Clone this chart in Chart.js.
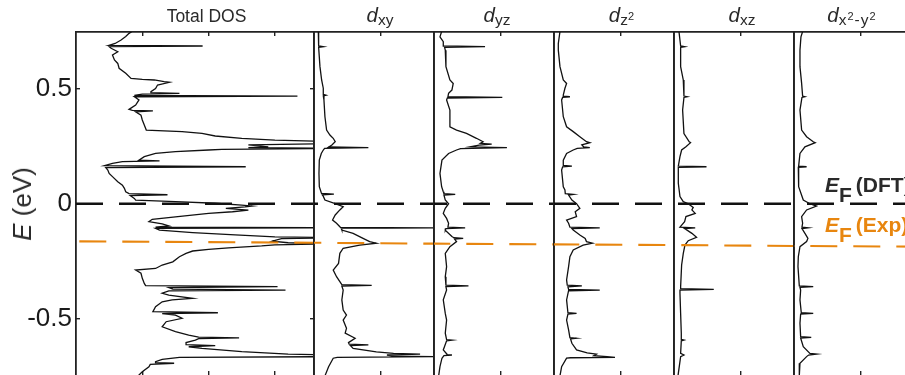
<!DOCTYPE html>
<html>
<head>
<meta charset="utf-8">
<title>DOS</title>
<script src="https://cdn.jsdelivr.net/npm/chart.js@4/dist/chart.umd.min.js"></script>
<style>
  html, body { margin:0; padding:0; background:#fff; overflow:hidden; }
  #wrap { position:relative; width:905px; height:375px; overflow:hidden; font-family:"Liberation Sans", Arial, sans-serif; color:#2a2a2a; }
  #wrap canvas { position:absolute; top:0; }
  .txt { position:absolute; white-space:nowrap; z-index:5; }
  .ttl { top:5.3px; font-size:20.5px; line-height:20.5px; transform:translateX(-50%); }
  .sb { font-size:15.5px; position:relative; top:2.5px; }
  .sp { font-size:11px; position:relative; top:-5px; }
  .wide { letter-spacing:1px; }
  .ef { font-size:21px; line-height:21px; font-weight:bold; }
  .ef .F { position:relative; top:10px; }
  .ef .p { margin-left:4px; }
</style>
</head>
<body>
<div id="wrap">
  <div class="txt" style="left:206.5px; top:7.9px; font-size:17.5px; line-height:17.5px; transform:translateX(-50%);">Total DOS</div>
  <div class="txt ttl" style="left:380px;"><i>d</i><span class="sb">xy</span></div>
  <div class="txt ttl" style="left:497px;"><i>d</i><span class="sb">yz</span></div>
  <div class="txt ttl" style="left:621.5px;"><i>d</i><span class="sb">z<span class="sp">2</span></span></div>
  <div class="txt ttl" style="left:742px;"><i>d</i><span class="sb">xz</span></div>
  <div class="txt ttl" style="left:852px;"><i>d</i><span class="sb wide">x<span class="sp">2</span>-y<span class="sp">2</span></span></div>
  <div class="txt" style="left:22px; top:203.5px; font-size:26px; line-height:26px; transform:translate(-50%,-50%) rotate(-90deg);"><i>E</i> (eV)</div>
  <div class="txt ef" style="left:825px; top:173.9px; color:#2a2a2a;"><i>E</i><span class="F">F</span><span class="p">(DFT)</span></div>
  <div class="txt ef" style="left:825px; top:213.9px; color:#E8860F;"><i>E</i><span class="F">F</span><span class="p">(Exp)</span></div>
</div>
<script>
// ---------------- data ----------------
const yMin = -0.75, yMax = 0.748;
const yTickValues = [-0.5, 0, 0.5];
const yTickLabels = ['-0.5', '0', '0.5'];
const efDFT = 0;
// experimental Fermi level, read at the panel boundaries (slightly tilted in the figure)
const efExp = [-0.164, -0.170, -0.174, -0.177, -0.180, -0.184, -0.187];

const totalE = [0.757,0.742,0.728,0.713,0.698,0.690,0.687,0.684,0.677,0.662,
0.648,0.626,0.611,0.590,0.568,0.546,0.542,0.539,0.532,0.529,
0.517,0.502,0.488,0.484,0.481,0.477,0.472,0.469,0.466,0.452,
0.430,0.411,0.407,0.404,0.400,0.386,0.365,0.343,0.321,0.314,
0.306,0.295,0.285,0.277,0.270,0.263,0.256,0.248,0.244,0.241,
0.237,0.234,0.227,0.219,0.205,0.190,0.187,0.183,0.176,0.166,
0.161,0.157,0.147,0.132,0.118,0.096,0.081,0.067,0.052,0.044,
0.039,0.035,0.023,0.016,0.009,0.002,-0.006,-0.010,-0.014,-0.020,
-0.028,-0.035,-0.042,-0.057,-0.068,-0.078,-0.088,-0.097,-0.102,-0.105,
-0.107,-0.115,-0.126,-0.136,-0.144,-0.148,-0.152,-0.163,-0.170,-0.174,
-0.179,-0.184,-0.192,-0.199,-0.206,-0.216,-0.231,-0.253,-0.267,-0.282,
-0.289,-0.303,-0.325,-0.347,-0.357,-0.361,-0.365,-0.372,-0.376,-0.380,
-0.390,-0.398,-0.412,-0.419,-0.427,-0.449,-0.470,-0.475,-0.479,-0.485,
-0.499,-0.514,-0.536,-0.557,-0.572,-0.581,-0.584,-0.588,-0.594,-0.605,
-0.614,-0.618,-0.623,-0.630,-0.644,-0.655,-0.659,-0.666,-0.669,-0.678,
-0.688,-0.692,-0.695,-0.700,-0.710,-0.732,-0.746,-0.768];
const totalDOS = [0.88,0.80,0.75,0.68,0.59,0.50,1.91,0.50,0.53,0.63,
0.55,0.58,0.63,0.65,0.75,0.83,1.0,1.18,1.33,1.41,
1.23,1.2,1.13,1.13,1.56,1.0,0.88,3.34,0.88,0.95,
0.9,0.8,0.85,1.16,0.9,0.98,1.0,1.03,1.06,1.6,
1.9,2.1,2.5,3.0,4.0,4.0,2.6,2.9,2.6,4.0,
2.2,2.0,1.5,1.2,1.03,0.95,1.26,0.7,0.55,0.43,
2.56,0.45,0.48,0.5,0.55,0.63,0.7,0.73,0.75,0.8,
1.38,0.82,0.88,0.9,1.5,2.1,2.5,2.66,2.55,2.26,
2.6,2.36,2.0,1.5,1.15,1.1,1.3,1.4,1.2,4.0,
1.2,1.26,1.76,2.4,3.0,4.0,3.1,2.96,3.2,4.0,
3.0,2.8,2.3,2.0,1.76,1.66,1.56,1.46,1.3,1.2,
0.9,0.98,1.0,1.03,1.05,3.04,1.4,1.46,3.16,1.4,
1.3,1.4,1.76,1.45,1.3,1.2,1.16,2.14,1.3,1.5,
1.6,1.36,1.3,1.5,1.7,1.85,2.46,1.85,1.8,1.66,
1.66,2.1,1.7,1.9,2.5,3.2,4.0,4.0,1.56,1.3,
1.2,1.2,1.48,1.12,1.1,1.0,0.95,0.85];

const dxyE = [0.75,0.687,0.684,0.681,0.597,0.539,0.503,0.476,0.473,0.470,0.452,0.379,0.321,0.299,0.285,0.270,0.256,0.247,0.244,0.241,0.234,0.219,0.190,0.132,0.074,0.048,0.045,0.042,0.039,0.016,0.0,-0.013,-0.027,-0.049,-0.071,-0.085,-0.100,-0.103,-0.105,-0.107,-0.115,-0.129,-0.151,-0.165,-0.172,-0.180,-0.194,-0.216,-0.260,-0.289,-0.318,-0.352,-0.356,-0.359,-0.376,-0.419,-0.463,-0.485,-0.507,-0.543,-0.564,-0.586,-0.605,-0.612,-0.615,-0.618,-0.630,-0.645,-0.652,-0.655,-0.659,-0.664,-0.666,-0.669,-0.673,-0.710,-0.75];
const dxyDOS = [0.065,0.07,0.14,0.07,0.09,0.115,0.14,0.14,0.18,0.14,0.15,0.165,0.19,0.24,0.29,0.32,0.27,0.22,0.82,0.16,0.14,0.11,0.08,0.075,0.08,0.11,0.115,0.30,0.13,0.165,0.32,0.44,0.39,0.32,0.28,0.34,0.39,0.40,1.9,0.41,0.42,0.59,0.74,0.84,0.94,0.69,0.44,0.39,0.37,0.29,0.34,0.42,0.87,0.42,0.44,0.42,0.44,0.49,0.44,0.49,0.47,0.62,0.52,0.53,0.82,0.55,0.59,0.94,1.2,1.6,1.1,1.2,1.9,0.35,0.29,0.22,0.165];

const dyzE = [0.75,0.727,0.706,0.687,0.684,0.681,0.669,0.597,0.539,0.524,0.495,0.481,0.466,0.463,0.460,0.452,0.408,0.335,0.321,0.306,0.285,0.270,0.263,0.260,0.255,0.248,0.244,0.240,0.234,0.219,0.190,0.132,0.074,0.052,0.044,0.041,0.038,0.016,0.0,-0.020,-0.042,-0.064,-0.085,-0.102,-0.105,-0.108,-0.115,-0.143,-0.148,-0.151,-0.154,-0.165,-0.187,-0.216,-0.274,-0.318,-0.355,-0.358,-0.361,-0.376,-0.419,-0.478,-0.507,-0.564,-0.592,-0.594,-0.597,-0.637,-0.657,-0.659,-0.662,-0.673,-0.710,-0.75];
const dyzDOS = [0.115,0.09,0.14,0.14,0.77,0.16,0.17,0.18,0.24,0.29,0.27,0.22,0.21,1.03,0.2,0.19,0.24,0.24,0.34,0.49,0.64,0.74,0.70,0.87,0.68,0.55,1.10,0.40,0.34,0.22,0.12,0.09,0.115,0.14,0.15,0.32,0.15,0.17,0.22,0.17,0.14,0.19,0.22,0.21,0.47,0.18,0.17,0.27,0.30,0.44,0.31,0.34,0.24,0.17,0.19,0.17,0.18,0.52,0.18,0.19,0.14,0.17,0.19,0.17,0.19,0.27,0.19,0.14,0.2,0.27,0.15,0.12,0.09,0.07];

const dz2E = [0.75,0.698,0.669,0.597,0.539,0.524,0.503,0.473,0.469,0.466,0.463,0.452,0.379,0.335,0.314,0.292,0.270,0.266,0.256,0.247,0.244,0.241,0.234,0.219,0.190,0.167,0.164,0.161,0.147,0.074,0.060,0.044,0.041,0.038,0.016,0.0,-0.020,-0.035,-0.056,-0.071,-0.085,-0.102,-0.105,-0.108,-0.115,-0.136,-0.151,-0.165,-0.172,-0.180,-0.201,-0.231,-0.274,-0.332,-0.355,-0.358,-0.362,-0.373,-0.376,-0.379,-0.419,-0.475,-0.478,-0.481,-0.507,-0.550,-0.583,-0.586,-0.589,-0.608,-0.637,-0.650,-0.655,-0.662,-0.666,-0.669,-0.671,-0.673,-0.710,-0.75];
const dz2DOS = [0.09,0.065,0.065,0.09,0.14,0.19,0.165,0.14,0.14,0.24,0.13,0.115,0.14,0.19,0.29,0.39,0.49,0.54,0.42,0.45,0.54,0.35,0.29,0.19,0.14,0.14,0.27,0.13,0.115,0.14,0.165,0.17,0.29,0.22,0.27,0.34,0.39,0.32,0.34,0.19,0.22,0.24,0.69,0.27,0.29,0.39,0.47,0.49,0.58,0.44,0.29,0.24,0.22,0.19,0.2,0.42,0.21,0.22,0.69,0.22,0.19,0.21,0.34,0.21,0.19,0.22,0.24,0.34,0.25,0.27,0.34,0.5,0.64,0.6,0.8,0.92,0.25,0.19,0.115,0.09];

const dxzE = [0.75,0.687,0.684,0.681,0.597,0.539,0.469,0.466,0.463,0.408,0.306,0.292,0.270,0.266,0.248,0.234,0.205,0.164,0.161,0.158,0.089,0.031,0.009,0.0,-0.016,-0.027,-0.042,-0.056,-0.078,-0.102,-0.105,-0.108,-0.129,-0.146,-0.161,-0.180,-0.216,-0.267,-0.361,-0.370,-0.373,-0.376,-0.390,-0.478,-0.564,-0.591,-0.594,-0.597,-0.652,-0.659,-0.666,-0.75];
const dxzDOS = [0.075,0.10,0.16,0.10,0.10,0.14,0.15,0.2,0.15,0.13,0.15,0.18,0.23,0.25,0.18,0.115,0.09,0.065,0.49,0.065,0.065,0.09,0.14,0.215,0.29,0.27,0.32,0.18,0.16,0.09,0.32,0.16,0.27,0.34,0.215,0.165,0.14,0.115,0.10,0.1,0.60,0.09,0.09,0.10,0.11,0.11,0.15,0.11,0.10,0.15,0.10,0.06];

const dx2y2E = [0.75,0.727,0.669,0.597,0.524,0.469,0.466,0.463,0.408,0.321,0.292,0.270,0.266,0.248,0.219,0.164,0.161,0.158,0.132,0.074,0.016,0.0,-0.010,-0.027,-0.056,-0.085,-0.102,-0.105,-0.108,-0.129,-0.151,-0.165,-0.187,-0.231,-0.274,-0.358,-0.361,-0.364,-0.376,-0.419,-0.475,-0.478,-0.481,-0.521,-0.579,-0.582,-0.585,-0.623,-0.652,-0.655,-0.659,-0.666,-0.695,-0.75];
const dx2y2DOS = [0.13,0.105,0.09,0.09,0.115,0.13,0.165,0.12,0.09,0.115,0.19,0.29,0.32,0.165,0.09,0.07,0.19,0.065,0.065,0.075,0.14,0.24,0.34,0.19,0.115,0.13,0.12,0.21,0.12,0.165,0.21,0.19,0.09,0.065,0.06,0.08,0.29,0.09,0.1,0.09,0.11,0.29,0.1,0.09,0.1,0.26,0.1,0.14,0.24,0.34,0.22,0.19,0.09,0.08];

const totalXTicks = [1, 2, 3];
const orbitalXTicks = [1];

// ---------------- layout / style ----------------
const PX_PER_UNIT = 66.3;
const PLOT_TOP = 32, PLOT_BOTTOM = 375.9, CANVAS_H = 380;
const AX = '#222';
const CURVE = '#111';
const ORANGE = '#E8860F';
const DASH = [27, 16];
const DASH_PERIOD = 43;
const FONT = '"Liberation Sans", Arial, sans-serif';

const panels = [
  {left: 76,  width: 238, E: totalE, D: totalDOS, xt: totalXTicks, main: true},
  {left: 314, width: 120, E: dxyE,   D: dxyDOS,   xt: orbitalXTicks},
  {left: 434, width: 120, E: dyzE,   D: dyzDOS,   xt: orbitalXTicks},
  {left: 554, width: 120, E: dz2E,   D: dz2DOS,   xt: orbitalXTicks},
  {left: 674, width: 120, E: dxzE,   D: dxzDOS,   xt: orbitalXTicks},
  {left: 794, width: 120, E: dx2y2E, D: dx2y2DOS, xt: orbitalXTicks},
];

const wrap = document.getElementById('wrap');
const mod = (a, m) => ((a % m) + m) % m;

panels.forEach((p, i) => {
  const canvasLeft = p.main ? 0 : p.left - 4;
  const cw = p.left + p.width + 4 - canvasLeft;
  const cv = document.createElement('canvas');
  cv.width = cw; cv.height = CANVAS_H;
  cv.style.left = canvasLeft + 'px';
  cv.style.width = cw + 'px'; cv.style.height = CANVAS_H + 'px';
  wrap.appendChild(cv);
  const xmax = p.width / PX_PER_UNIT;

  const xTickGrid = (len) => ({drawOnChartArea: false, drawTicks: true, tickLength: len, color: AX, tickColor: AX, lineWidth: 1.4, tickWidth: 1.4});
  const border = {display: true, color: AX, width: 1.8};

  new Chart(cv, {
    type: 'line',
    data: {
      datasets: [
        {data: [{x: 0, y: efDFT}, {x: xmax, y: efDFT}], borderColor: '#111', borderWidth: 2.4,
         borderDash: DASH, borderDashOffset: mod(p.left - 76, DASH_PERIOD), pointRadius: 0},
        {data: [{x: 0, y: efExp[i]}, {x: xmax, y: efExp[i + 1]}], borderColor: ORANGE, borderWidth: 2.1,
         borderDash: DASH, borderDashOffset: mod(p.left - 79.3, DASH_PERIOD), pointRadius: 0},
        {data: p.E.map((e, k) => ({x: p.D[k], y: e})), borderColor: CURVE, borderWidth: 1.3, pointRadius: 0, tension: 0}
      ]
    },
    options: {
      responsive: false, animation: false, events: [],
      layout: {autoPadding: false, padding: {left: p.main ? 0 : 4, right: 4, top: PLOT_TOP, bottom: CANVAS_H - PLOT_BOTTOM}},
      plugins: {legend: {display: false}, tooltip: {enabled: false}, title: {display: false}},
      scales: {
        x: {type: 'linear', position: 'bottom', min: 0, max: xmax,
            ticks: {display: false}, grid: xTickGrid(-5), border,
            afterBuildTicks: s => { s.ticks = p.xt.map(v => ({value: v})); },
            afterFit: s => { s.height = 0; s.paddingLeft = 0; s.paddingRight = 0; }},
        x2: {type: 'linear', position: 'top', min: 0, max: xmax,
            ticks: {display: false}, grid: xTickGrid(-4), border,
            afterBuildTicks: s => { s.ticks = p.xt.map(v => ({value: v})); },
            afterFit: s => { s.height = 0; s.paddingLeft = 0; s.paddingRight = 0; }},
        y: {type: 'linear', position: 'left', min: yMin, max: yMax,
            ticks: {display: !!p.main, color: '#1a1a1a', padding: 8, font: {family: FONT, size: 26},
                    callback: v => yTickLabels[yTickValues.indexOf(v)]},
            grid: {display: !!p.main, drawOnChartArea: false, drawTicks: true, tickLength: -4, color: AX, tickColor: AX, lineWidth: 1.4, tickWidth: 1.4},
            border,
            afterBuildTicks: s => { s.ticks = yTickValues.map(v => ({value: v})); },
            afterFit: s => { s.width = p.main ? 76 : 0; s.paddingTop = 0; s.paddingBottom = 0; }},
        y2: {type: 'linear', position: 'right', min: yMin, max: yMax,
            ticks: {display: false},
            grid: {display: !!p.main, drawOnChartArea: false, drawTicks: true, tickLength: -4, color: AX, tickColor: AX, lineWidth: 1.4, tickWidth: 1.4},
            border,
            afterBuildTicks: s => { s.ticks = yTickValues.map(v => ({value: v})); },
            afterFit: s => { s.width = 0; s.paddingTop = 0; s.paddingBottom = 0; }}
      }
    }
  });
});
</script>
</body>
</html>
